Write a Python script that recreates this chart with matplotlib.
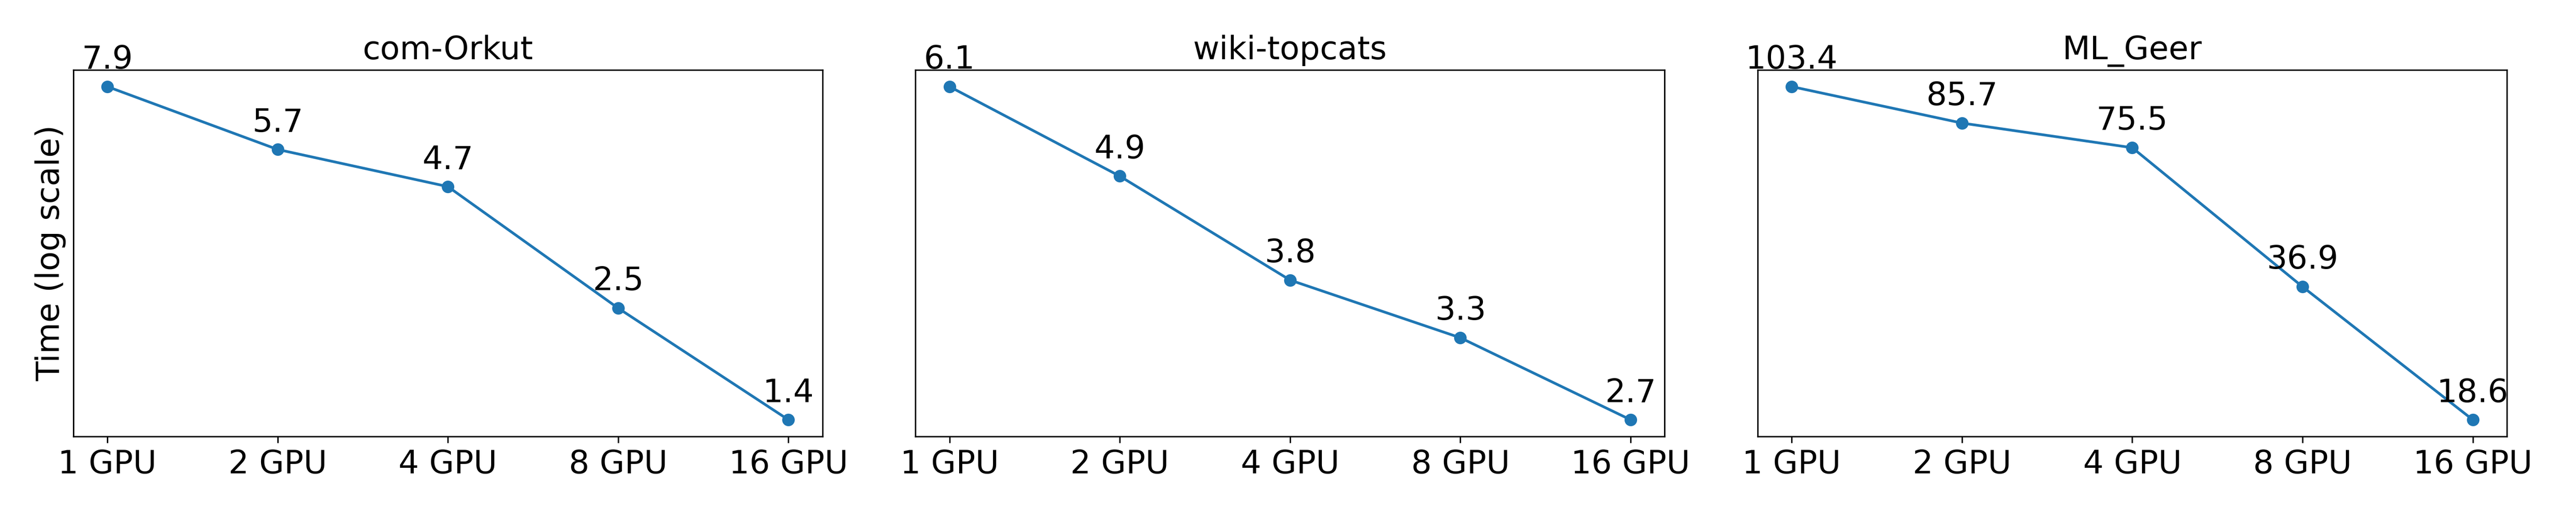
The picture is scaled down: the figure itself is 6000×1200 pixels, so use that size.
import matplotlib
matplotlib.use("Agg")
import matplotlib.pyplot as plt
from matplotlib.ticker import NullLocator

gpus = ["1 GPU", "2 GPU", "4 GPU", "8 GPU", "16 GPU"]
titles = ["com-Orkut", "wiki-topcats", "ML_Geer"]
orkut = [7.9, 5.7, 4.7, 2.5, 1.4]
wiki = [6.1, 4.9, 3.8, 3.3, 2.7]
geer = [103.4, 85.7, 75.5, 36.9, 18.6]
series = [orkut, wiki, geer]

FS = 18
fig, axes = plt.subplots(1, 3, figsize=(20, 4), dpi=300)
for ax, title, vals in zip(axes, titles, series):
    ax.plot(gpus, vals, marker="o", color="#1f77b4")
    ax.set_yscale("log")
    ax.yaxis.set_major_locator(NullLocator())
    ax.yaxis.set_minor_locator(NullLocator())
    ax.set_title(title, fontsize=FS)
    ax.tick_params(axis="x", labelsize=FS)
    for x, v in zip(gpus, vals):
        ax.annotate(f"{v}", (x, v), textcoords="offset points", xytext=(0, 10),
                    ha="center", fontsize=FS)
axes[0].set_ylabel("Time (log scale)", fontsize=FS)
fig.subplots_adjust(left=0.02845, right=0.97317, top=0.86417, bottom=0.1525, wspace=0.1241)
fig.savefig("out.png")
